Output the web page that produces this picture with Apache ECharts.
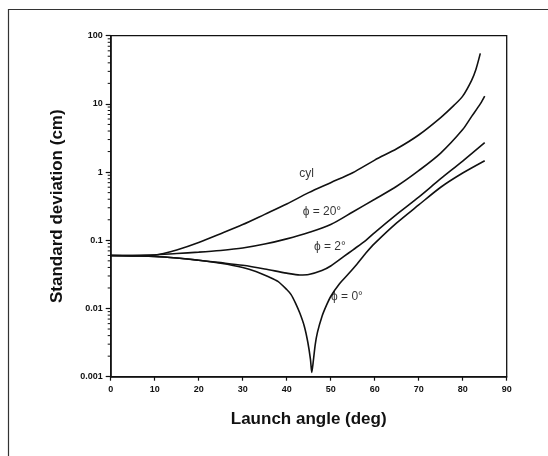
<!DOCTYPE html>
<html><head><meta charset="utf-8">
<script src="https://cdn.jsdelivr.net/npm/echarts@6/dist/echarts.min.js"></script>
<style>html,body{margin:0;padding:0;background:#fff}#c{width:548px;height:456px}</style>
</head><body><div id="c"></div>
<script>
// Data (launch angle in degrees, standard deviation in cm)
const cylX = [0,5,10,12,15,20,25,30,35,40,45,50,55,60,65,70,75,78,80,82,83,84];
const cylY = [0.06,0.06,0.061,0.064,0.072,0.093,0.125,0.17,0.24,0.34,0.5,0.7,0.98,1.5,2.2,3.5,6.3,9.5,13,22,32,55];

const phi20X = [0,5,10,15,20,25,30,35,40,45,50,55,60,65,70,75,80,82,84,85];
const phi20Y = [0.06,0.06,0.061,0.064,0.067,0.071,0.077,0.088,0.105,0.13,0.17,0.26,0.4,0.62,1.05,1.9,4.2,6.5,10,13];

const phi2X = [0,5,10,15,20,25,30,35,40,43,45,48,50,53,55,58,60,65,70,75,80,85];
const phi2Y = [0.06,0.059,0.058,0.055,0.051,0.047,0.043,0.038,0.033,0.031,0.0315,0.036,0.042,0.058,0.072,0.1,0.13,0.24,0.43,0.8,1.45,2.7];

const phi0X = [0,5,10,15,20,25,30,33,36,38,40,41,42,43,44,44.8,45.4,45.7,46.0,46.5,47,48,49,50,52,54,56,58,60,65,70,75,80,85];
const phi0Y = [0.06,0.059,0.058,0.055,0.051,0.046,0.04,0.035,0.029,0.025,0.019,0.016,0.012,0.0085,0.0055,0.0032,0.0018,0.00115,0.0016,0.003,0.0045,0.0076,0.011,0.015,0.023,0.032,0.045,0.065,0.09,0.18,0.33,0.6,0.97,1.47];

const xTicks = [0,10,20,30,40,50,60,70,80,90];
const yTickLabels = ['0.001','0.01','0.1','1','10','100'];

const curveLabels = ['cyl','\u03d5 = 20\u00b0','\u03d5 = 2\u00b0','\u03d5 = 0\u00b0'];
const curveLabelX = [44.5,48.0,49.8,53.7];
const curveLabelY = [0.96,0.26,0.08,0.0148];

function zip(xs, ys){ return xs.map((x,i)=>[x, ys[i]]); }

const chart = echarts.init(document.getElementById('c'), null, {renderer:'canvas'});
const FONT = '"Liberation Sans", Arial, sans-serif';
const lineStyle = {color:'#111', width:1.6};
function curve(name, xs, ys, sm){
  return {type:'line', name, data: zip(xs,ys), showSymbol:false, symbol:'none', smooth:sm, lineStyle, animation:false, z:3, clip:true};
}

chart.setOption({
  animation:false,
  backgroundColor:'#fff',
  grid:{left:110.7, right:41.3, top:35.7, bottom:79.3, show:true, borderColor:'#111', borderWidth:1.3},
  xAxis:{type:'value', min:0, max:90, interval:10,
    axisLine:{show:true, onZero:false, lineStyle:{color:'#111', width:1.5}},
    axisTick:{show:true, inside:false, length:4, lineStyle:{color:'#111', width:1.2}},
    axisLabel:{margin:8, color:'#111', fontFamily:FONT, fontWeight:'bold', fontSize:9,
      formatter:v => xTicks.includes(v) ? String(v) : ''},
    splitLine:{show:false},
    name:'Launch angle (deg)', nameLocation:'middle', nameGap:34,
    nameTextStyle:{fontFamily:FONT, fontWeight:'bold', fontSize:17, color:'#111'}
  },
  yAxis:{type:'log', logBase:10, min:0.001, max:100,
    axisLine:{show:true, lineStyle:{color:'#111', width:1.5}},
    axisTick:{show:true, inside:false, length:5, lineStyle:{color:'#111', width:1.2}},
    axisLabel:{margin:8, color:'#111', fontFamily:FONT, fontWeight:'bold', fontSize:9,
      formatter:v => { const i = Math.round(Math.log10(v)) + 3; return yTickLabels[i] || ''; }},
    splitLine:{show:false},
    name:'Standard deviation (cm)', nameLocation:'middle', nameGap:45,
    nameTextStyle:{fontFamily:FONT, fontWeight:'bold', fontSize:17, color:'#111'}
  },
  series:[
    curve('cyl', cylX, cylY, 0.3),
    curve('phi20', phi20X, phi20Y, 0.3),
    curve('phi2', phi2X, phi2Y, 0.3),
    curve('phi0', phi0X, phi0Y, 0.25),
    {type:'scatter', name:'labels', symbolSize:0, silent:true, z:4,
      data: curveLabels.map((t,i)=>({value:[curveLabelX[i], curveLabelY[i]], name:t})),
      label:{show:true, position:'inside', formatter:p=>p.name, color:'#000', fontFamily:FONT, fontSize:12}
    }
  ]
});

// Outer frame and log minor ticks
const g = [];
g.push({type:'polyline', shape:{points:[[8.5,456],[8.5,9.5],[548,9.5]]}, style:{stroke:'#333', lineWidth:1.2, fill:null}, silent:true});
const minorVals = [];
for (let e=-3; e<2; e++) for (let m=2; m<=9; m++) minorVals.push(m*Math.pow(10,e));
minorVals.forEach(v => {
  const p = chart.convertToPixel({yAxisIndex:0}, v);
  g.push({type:'line', shape:{x1:110.7-3, y1:p, x2:110.7, y2:p}, style:{stroke:'#111', lineWidth:1}, silent:true});
});
chart.setOption({graphic:g});
</script>
</body></html>
